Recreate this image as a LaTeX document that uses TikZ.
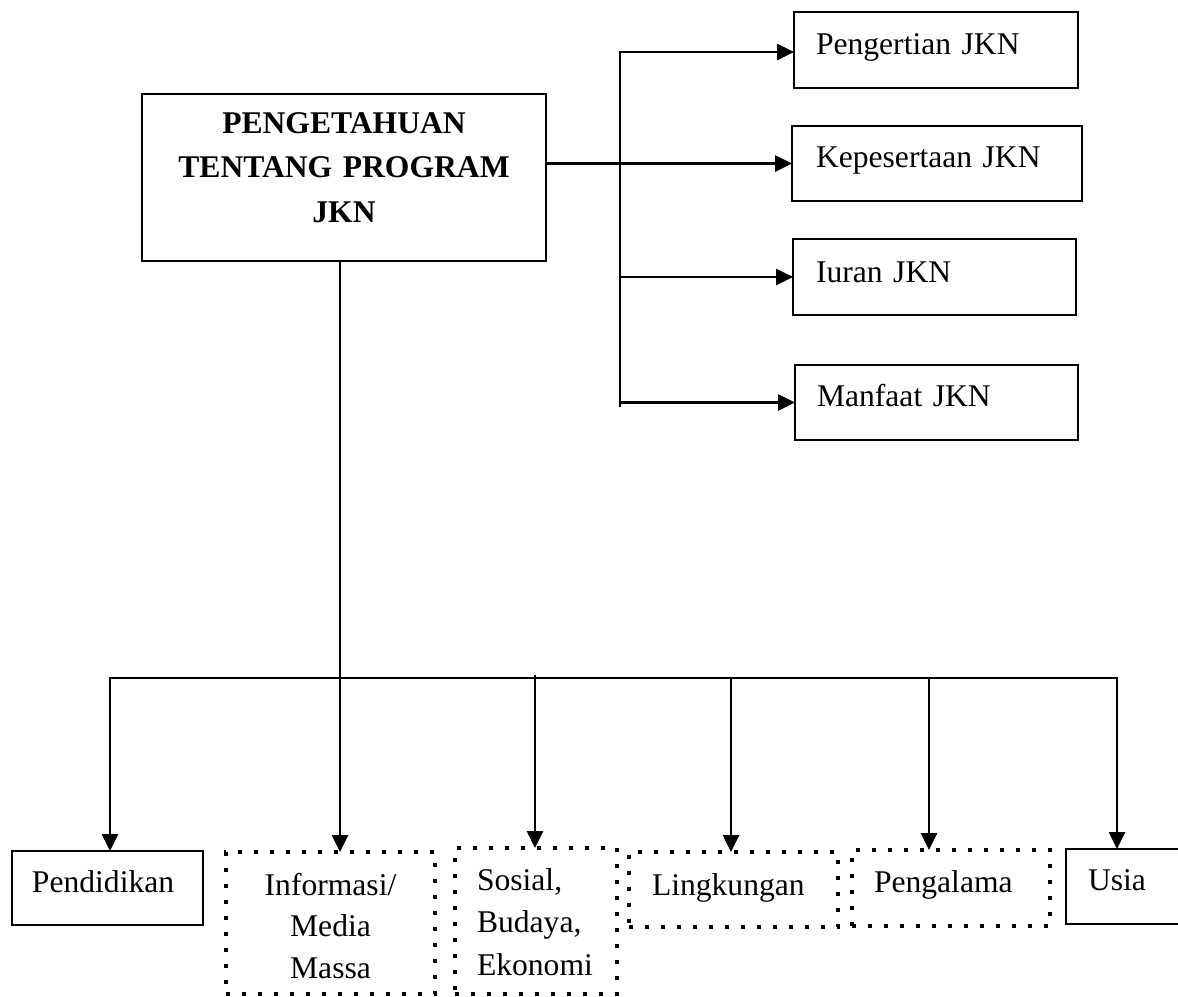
\documentclass[tikz,border=0pt]{standalone}
\usepackage{fontspec}
\setmainfont{Liberation Serif}
\usetikzlibrary{arrows.meta}
\begin{document}
\begin{tikzpicture}[x=0.5pt,y=-0.5pt,
  every node/.style={inner ysep=0pt, outer sep=0pt},
  sbox/.style={draw, line width=1.4pt},
  dbox/.style={draw, line width=1.8pt, dash pattern=on 1.8pt off 6.2pt},
  lt/.style={font=\fontsize{15.8pt}{21pt}\selectfont, align=left},
  ct/.style={font=\fontsize{15.8pt}{20.75pt}\selectfont, align=center},
  ln/.style={line width=1.3pt},
  arr/.style={line width=1.3pt, -{Triangle[length=8.5pt,width=8pt]}},
  rarr/.style={line width=1.3pt, {Triangle[length=8.5pt,width=8pt]}-},
  barr/.style={line width=1.3pt, {Triangle[length=8.5pt,width=8pt]}-{Triangle[length=8.5pt,width=8pt]}},
]
\useasboundingbox (0,0) rectangle (1178,996);
\fill[white] (0,0) rectangle (1178,996);
\clip (0,0) rectangle (1178,996);

% main box
\node[sbox, align=center, font=\bfseries\fontsize{15.8pt}{22.25pt}\selectfont,
  minimum width=202pt, text width=202pt, inner xsep=0pt,
  text height=19.5pt, text depth=64pt] (main) at (344,177.5)
  {PENGETAHUAN\\TENTANG PROGRAM\\JKN};

% right boxes
\node[sbox, lt, minimum width=142pt, text width=120pt, inner xsep=11pt,
  text height=21pt, text depth=17pt] (peng) at (936,50) {Pengertian JKN};
\node[sbox, lt, minimum width=145pt, text width=121pt, inner xsep=12pt,
  text height=20.5pt, text depth=17pt] (kep) at (937,163.5) {Kepesertaan JKN};
\node[sbox, lt, minimum width=141.5pt, text width=118.5pt, inner xsep=11.5pt,
  text height=21.5pt, text depth=16.5pt] (iur) at (934.5,277) {Iuran JKN};
\node[sbox, lt, minimum width=141.5pt, text width=119.5pt, inner xsep=11pt,
  text height=20.5pt, text depth=17pt] (man) at (936.5,402.5) {Manfaat JKN};

% bottom boxes
\node[sbox, lt, minimum width=95.5pt, text width=75.5pt, inner xsep=10pt,
  text height=20.5pt, text depth=16.5pt] (pend) at (107.5,888) {Pendidikan};
\node[dbox, ct, minimum width=104.5pt, text width=104.5pt, inner xsep=0pt,
  text height=21.5pt, text depth=49.5pt] (info) at (330.5,923) {Informasi/\\Media\\Massa};
\node[dbox, font=\fontsize{15.8pt}{21.25pt}\selectfont, align=left,
  minimum width=81pt, text width=59pt, inner xsep=11pt,
  text height=21pt, text depth=52pt] (sos) at (536,921) {Sosial,\\Budaya,\\Ekonomi};
\node[dbox, lt, minimum width=104.5pt, text width=81.5pt, inner xsep=11.5pt,
  text height=21.5pt, text depth=16pt] (ling) at (733.5,889.5) {Lingkungan};
\node[dbox, lt, minimum width=99pt, text width=77pt, inner xsep=11pt,
  text height=21pt, text depth=17pt] (pgl) at (951,888) {Pengalama};
\node[sbox, lt, minimum width=97pt, text width=75pt, inner xsep=11pt,
  text height=20.5pt, text depth=17pt] (usia) at (1163,886.5) {Usia};

% right trunk
\coordinate (rt) at (620,52);
\coordinate (rb) at (620,407);
\draw[rarr] (rt -| peng.west) -- (rt) -- (rb);
\draw[arr] (main.east |- kep.west) -- (kep.west);
\draw[arr] (rt |- iur.west) -- (iur.west);
\draw[arr] (rt |- man.west) -- (man.west);

% bottom bus
\coordinate (bl) at (110,678);
\coordinate (br) at (1117,678);
\draw[barr] (br |- usia.north) -- (br) -- (bl) -- (bl |- pend.north);
\coordinate (mv) at (340,678);
\draw[arr] (mv |- main.south) -- (mv |- info.north);
\coordinate (ds) at (535,675);
\draw[arr] (ds) -- (ds |- sos.north);
\coordinate (dl) at (731,678);
\draw[arr] (dl) -- (dl |- ling.north);
\coordinate (dp) at (929,678);
\draw[arr] (dp) -- (dp |- pgl.north);
\end{tikzpicture}
\end{document}
